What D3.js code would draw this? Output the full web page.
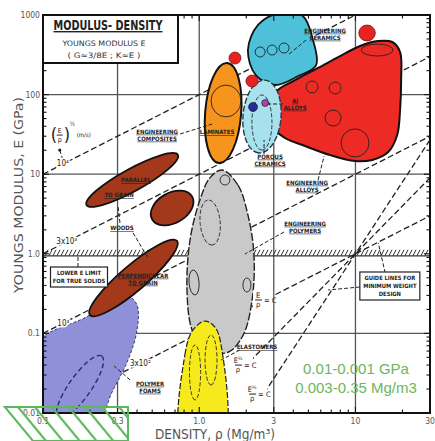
<!DOCTYPE html>
<html>
<head>
<meta charset="utf-8">
<script src="https://cdnjs.cloudflare.com/ajax/libs/d3/7.8.5/d3.min.js"></script>
<style>
body { margin: 0; background: #fff; }
svg { display: block; font-family: "Liberation Sans Narrow", "DejaVu Sans Condensed", "Arial Narrow", sans-serif; }
</style>
</head>
<body>
<script>
// axes
var xTicks = [0.1, 0.3, 1, 3, 10, 30];
var xTickLabels = ["0.1", "0.3", "1.0", "3", "10", "30"];
var yTicks = [0.01, 0.1, 1, 10, 100, 1000];
var yTickLabels = ["0.01", "0.1", "1.0", "10", "100", "1000"];
var gridX = [0.3, 1, 3, 10];
var gridY = [0.1, 10, 100];
var lowerLimitE = 1;

// (E/rho)^1/2 lines: E = c * rho
var waveC = [100, 10, 1, 0.1];
var waveLabels = ["10⁴", "3x10³", "10³", "3x10²"];
var waveLabelAt = [[0.134, 13.8], [0.142, 1.42], [0.135, 0.135], [0.42, 0.042]];

// guide lines for minimum weight design, all through (10, 1)
var guidePivot = [10, 1];
var guideExp = [1, 2, 3];
var guideStart = [0.1, 2.1, 2.6];
var guideLabelAt = [[2.38, 0.263], [1.77, 0.040], [2.18, 0.0173]];
var guideSup = ["", "½", "⅓"];

// ellipse-like fields: long axis from -> to, half width w in decades
var woods = [
  {from: [0.19, 4.1], to: [0.73, 17.5], w: 0.14},
  {from: [0.50, 2.7], to: [0.90, 5.25], w: 0.19},
  {from: [0.20, 0.17], to: [0.72, 1.45], w: 0.16}
];
var composites = {from: [1.51, 249], to: [1.34, 13.8], w: 0.226};
var porousCeramics = {from: [2.64, 152], to: [2.41, 18.5], w: 0.239};
var smallMetals = [
  {from: [1.55, 288], to: [1.85, 288], w: 0.075},
  {from: [1.99, 148], to: [2.38, 148], w: 0.075},
  {from: [10.5, 594], to: [13.4, 594], w: 0.1}
];
var alDots = [
  {from: [2.07, 69.9], to: [2.36, 69.9], w: 0.057, c: "#2a2aa8"},
  {from: [2.51, 78.4], to: [2.78, 78.4], w: 0.044, c: "#b23cb0"}
];
var foamCore = {from: [0.125, 0.00865], to: [0.238, 0.052], w: 0.138};

// free-form fields: boundary points [rho, E]
var engCeramics = [[2.05, 363], [2.38, 750], [3.3, 1060], [4.6, 970], [5.3, 514], [5.6, 235], [4.3, 171], [3.06, 132], [2.3, 176]];
var engAlloys = [[3.10, 108], [4.11, 152], [5.76, 216], [7.97, 305], [10.7, 408], [13.95, 471], [17.2, 458], [19.3, 343], [19.6, 152], [19.3, 64], [18.5, 31.1], [16.2, 19.0], [12.8, 15.1], [9.94, 14.6], [6.88, 17.4], [4.76, 22.6], [3.54, 28.5], [3.01, 38.0], [2.97, 67.9]];
var engPolymers = [[1.40, 11.3], [1.77, 7.3], [2.05, 3.07], [2.24, 0.97], [2.18, 0.263], [1.91, 0.095], [1.53, 0.058], [1.09, 0.062], [0.90, 0.11], [0.835, 0.35], [0.873, 1.49], [1.01, 4.74], [1.17, 9.0]];
var elastomers = [[0.79, 0.004], [0.81, 0.054], [0.91, 0.11], [1.09, 0.143], [1.26, 0.12], [1.38, 0.0715], [1.40, 0.004]];
var polymerFoams = [[0.085, 0.068], [0.194, 0.165], [0.277, 0.263], [0.35, 0.295], [0.40, 0.227], [0.40, 0.11], [0.35, 0.0463], [0.277, 0.0184], [0.215, 0.007], [0.085, 0.007]];

// sketched sub-fields inside the big fields
var subFields = [
  {from: [1.19, 83.1], to: [1.85, 83.1], w: 0.2, dash: false},
  {from: [2.52, 98.9], to: [2.52, 20.1], w: 0.126, dash: true},
  {from: [2.28, 343], to: [2.64, 343], w: 0.063, dash: false},
  {from: [2.72, 363], to: [3.15, 363], w: 0.063, dash: false},
  {from: [3.24, 385], to: [3.76, 385], w: 0.063, dash: false},
  {from: [6.39, 50.8], to: [8.09, 50.8], w: 0.1, dash: false},
  {from: [6.78, 121], to: [8.09, 121], w: 0.075, dash: false},
  {from: [4.83, 125], to: [5.76, 125], w: 0.075, dash: false},
  {from: [8.09, 24.7], to: [12.2, 24.7], w: 0.176, dash: false},
  {from: [10.9, 363], to: [17.4, 363], w: 0.075, dash: false},
  {from: [1.14, 4.74], to: [1.21, 1.29], w: 0.126, dash: true},
  {from: [0.913, 0.626], to: [0.94, 0.304], w: 0.063, dash: false},
  {from: [1.36, 8.46], to: [1.57, 8.46], w: 0.063, dash: false},
  {from: [2.02, 0.497], to: [2.02, 0.331], w: 0.05, dash: false},
  {from: [0.94, 0.0715], to: [0.94, 0.0146], w: 0.07, dash: true},
  {from: [1.19, 0.0955], to: [1.19, 0.0225], w: 0.075, dash: true}
];

// field names and where they sit
var labels = [
  {t: ["ENGINEERING", "COMPOSITES"], at: [0.537, 31.1]},
  {t: ["LAMINATES"], at: [1.30, 33.9]},
  {t: ["ENGINEERING", "CERAMICS"], at: [6.39, 577]},
  {t: ["Al", "ALLOYS"], at: [4.11, 76.2]},
  {t: ["POROUS", "CERAMICS"], at: [2.84, 15.1]},
  {t: ["ENGINEERING", "ALLOYS"], at: [4.90, 7.11]},
  {t: ["ENGINEERING", "POLYMERS"], at: [4.76, 2.17]},
  {t: ["WOODS"], at: [0.32, 2.11]},
  {t: ["PARALLEL"], at: [0.394, 8.45]},
  {t: ["TO GRAIN"], at: [0.307, 5.48]},
  {t: ["PERPENDICULAR", "TO GRAIN"], at: [0.437, 0.483]},
  {t: ["POLYMER", "FOAMS"], at: [0.484, 0.0212]},
  {t: ["ELASTOMERS"], at: [2.34, 0.0675]}
];
var boxLabels = [
  {t: ["LOWER E LIMIT", "FOR TRUE SOLIDS"], at: [0.170, 0.511]},
  {t: ["GUIDE LINES FOR", "MINIMUM WEIGHT", "DESIGN"], at: [16.6, 0.394]}
];
var leaders = [
  [[0.754, 32.0], [1.21, 42.7]],
  [[4.83, 485], [3.70, 314]],
  [[3.44, 76.2], [2.76, 76.2]],
  [[2.60, 17.9], [2.60, 26.9]],
  [[5.76, 8.45], [6.30, 16.9]],
  [[3.49, 1.88], [1.96, 0.994]],
  [[0.311, 2.44], [0.302, 3.99]],
  [[0.377, 1.83], [0.470, 0.886]],
  [[0.1675, 0.683], [0.1675, 0.966]],
  [[0.361, 0.026], [0.285, 0.039]],
  [[1.82, 0.0619], [1.38, 0.0463]],
  [[15.5, 0.574], [14.0, 1.37]],
  [[10.7, 0.383], [6.68, 0.351]],
  [[0.128, 20.1], [0.134, 15.1]]
];

// green note: aerogel range below the chart
var aerogel = [[0.057, 0.0119], [0.35, 0.0119], [0.35, 0.00445], [0.0863, 0.00445]];
var aerogelNote = ["0.01-0.001 GPa", "0.003-0.35 Mg/m3"];

var W = 435, H = 441;
var x = d3.scaleLog().domain([0.1, 30]).range([43, 430]);
var y = d3.scaleLog().domain([0.01, 1000]).range([413, 15]);
var X0 = x.range()[0], X1 = x.range()[1], Y0 = y.range()[0], Y1 = y.range()[1];

var svg = d3.select("body").append("svg").attr("width", W).attr("height", H);
var defs = svg.append("defs");
defs.append("clipPath").attr("id", "plot").append("rect")
    .attr("x", X0).attr("y", Y1).attr("width", X1 - X0).attr("height", Y0 - Y1);
var pat = defs.append("pattern").attr("id", "green")
    .attr("patternUnits", "userSpaceOnUse").attr("width", 13).attr("height", 13)
    .attr("patternTransform", "rotate(-39.5)");
pat.append("line").attr("x1", 2).attr("x2", 2).attr("y1", 0).attr("y2", 13)
    .attr("stroke", "#5cb85c").attr("stroke-width", 2.2);

var plot = svg.append("g").attr("clip-path", "url(#plot)");

// grid
plot.selectAll(".gx").data(gridX).enter().append("line")
    .attr("x1", function (d) { return x(d); }).attr("x2", function (d) { return x(d); })
    .attr("y1", Y1).attr("y2", Y0)
    .attr("stroke", "#555").attr("stroke-width", 1.3);
plot.selectAll(".gy").data(gridY).enter().append("line")
    .attr("y1", function (d) { return y(d); }).attr("y2", function (d) { return y(d); })
    .attr("x1", X0).attr("x2", X1)
    .attr("stroke", "#555").attr("stroke-width", 1.3);

// lower E limit, hatched
var yl = y(lowerLimitE);
plot.append("line").attr("x1", X0).attr("x2", X1).attr("y1", yl + 2).attr("y2", yl + 2)
    .attr("stroke", "#333").attr("stroke-width", 1.3);
plot.selectAll(".hatch").data(d3.range(X0 + 2, X1, 4)).enter().append("line")
    .attr("x1", function (d) { return d; }).attr("x2", function (d) { return d + 3; })
    .attr("y1", yl + 2).attr("y2", yl - 4)
    .attr("stroke", "#333").attr("stroke-width", 1);

// dashed property lines
var seg = d3.line().x(function (d) { return x(d[0]); }).y(function (d) { return y(d[1]); });
plot.selectAll(".wave").data(waveC).enter().append("path")
    .attr("d", function (c) { return seg([[0.1, c * 0.1], [30, c * 30]]); })
    .attr("fill", "none").attr("stroke", "#222").attr("stroke-width", 1.3)
    .attr("stroke-dasharray", "6,3");
guideExp.forEach(function (n, i) {
    if (n === 1) return;
    var f = function (r) { return guidePivot[1] * Math.pow(r / guidePivot[0], n); };
    plot.append("path").attr("d", seg([[guideStart[i], f(guideStart[i])], [40, f(40)]]))
        .attr("fill", "none").attr("stroke", "#222").attr("stroke-width", 1.3)
        .attr("stroke-dasharray", "6,3");
});

// fields
function ell(sel, r) {
    var x1 = x(r.from[0]), y1 = y(r.from[1]), x2 = x(r.to[0]), y2 = y(r.to[1]);
    var cx = (x1 + x2) / 2, cy = (y1 + y2) / 2;
    var a = Math.hypot(x2 - x1, y2 - y1) / 2;
    var b = y(1) - y(Math.pow(10, r.w));
    var ang = Math.atan2(y2 - y1, x2 - x1) * 180 / Math.PI;
    return sel.append("ellipse").attr("cx", cx).attr("cy", cy).attr("rx", a).attr("ry", b)
        .attr("transform", "rotate(" + ang + "," + cx + "," + cy + ")");
}
var blob = d3.line().x(function (d) { return x(d[0]); }).y(function (d) { return y(d[1]); })
    .curve(d3.curveCatmullRomClosed.alpha(0.5));

plot.append("path").attr("d", blob(polymerFoams))
    .attr("fill", "#8f90d8").attr("stroke", "#3a3a7a").attr("stroke-width", 1)
    .attr("stroke-dasharray", "3,2");
ell(plot, foamCore).attr("fill", "none").attr("stroke", "#2a2a80")
    .attr("stroke-width", 1.4).attr("stroke-dasharray", "5,3");
woods.forEach(function (r) {
    ell(plot, r).attr("fill", "#a3381b").attr("stroke", "#111").attr("stroke-width", 1.8);
});
plot.append("path").attr("d", blob(engPolymers))
    .attr("fill", "#c9c9c9").attr("stroke", "#222").attr("stroke-width", 1.4)
    .attr("stroke-dasharray", "8,2");
plot.append("path").attr("d", blob(elastomers))
    .attr("fill", "#f6ea1c").attr("stroke", "#222").attr("stroke-width", 1.2)
    .attr("stroke-dasharray", "6,2");
plot.append("path").attr("d", blob(engCeramics))
    .attr("fill", "#4fc0da").attr("stroke", "#111").attr("stroke-width", 1.8);
plot.append("path").attr("d", blob(engAlloys))
    .attr("fill", "#ee2a24").attr("stroke", "#111").attr("stroke-width", 2);
ell(plot, porousCeramics).attr("fill", "#a8e1ee").attr("stroke", "#1d3d4a")
    .attr("stroke-width", 1.4).attr("stroke-dasharray", "6,2");
ell(plot, composites).attr("fill", "#f7941e").attr("stroke", "#111").attr("stroke-width", 2);
smallMetals.forEach(function (r) {
    ell(plot, r).attr("fill", "#e8231f").attr("stroke", "#7a1010").attr("stroke-width", 0.8);
});
alDots.forEach(function (r) {
    ell(plot, r).attr("fill", r.c).attr("stroke", "#111").attr("stroke-width", 0.6);
});
subFields.forEach(function (r) {
    ell(plot, r).attr("fill", "none").attr("stroke", "#222").attr("stroke-width", 0.9)
        .attr("stroke-dasharray", r.dash ? "4,2" : null);
});

// leaders
plot.selectAll(".lead").data(leaders).enter().append("path")
    .attr("d", function (d) { return seg(d); })
    .attr("stroke", "#222").attr("stroke-width", 1).attr("stroke-dasharray", "4,2");
plot.append("circle").attr("cx", x(leaders[13][0][0])).attr("cy", y(leaders[13][0][1]))
    .attr("r", 1.6).attr("fill", "#222");

// labels
function multi(g, lines, fs, gap) {
    var top = -(lines.length - 1) * gap / 2;
    lines.forEach(function (t, i) {
        g.append("text").attr("y", top + i * gap).attr("dy", "0.35em")
            .attr("text-anchor", "middle").attr("font-size", fs).attr("font-weight", "bold")
            .attr("fill", "#222").attr("text-decoration", "underline").text(t);
    });
}
labels.forEach(function (l) {
    var g = svg.append("g").attr("transform", "translate(" + x(l.at[0]) + "," + y(l.at[1]) + ")");
    multi(g, l.t, 6, 7);
});
boxLabels.forEach(function (l) {
    var g = svg.append("g").attr("transform", "translate(" + x(l.at[0]) + "," + y(l.at[1]) + ")");
    var hgt = l.t.length * 8 + 4, wid = l.t.length > 2 ? 60 : 57;
    g.append("rect").attr("x", -wid / 2).attr("y", -hgt / 2).attr("width", wid).attr("height", hgt)
        .attr("fill", "#fff").attr("stroke", "#222").attr("stroke-width", 1.2);
    l.t.forEach(function (t, i) {
        g.append("text").attr("y", -(l.t.length - 1) * 4 + i * 8).attr("dy", "0.35em")
            .attr("text-anchor", "middle").attr("font-size", 5.8).attr("font-weight", "bold")
            .attr("fill", "#222").text(t);
    });
});

// line values
waveLabels.forEach(function (t, i) {
    svg.append("text").attr("x", x(waveLabelAt[i][0])).attr("y", y(waveLabelAt[i][1]))
        .attr("dy", "0.35em").attr("text-anchor", "middle").attr("font-size", 8)
        .attr("fill", "#222").attr("stroke", "#fff").attr("stroke-width", 3)
        .attr("paint-order", "stroke").text(t);
});
guideLabelAt.forEach(function (p, i) {
    var g = svg.append("g").attr("transform", "translate(" + x(p[0]) + "," + y(p[1]) + ")");
    g.append("rect").attr("x", -5).attr("y", -10).attr("width", 20).attr("height", 20).attr("fill", "#fff");
    var e = g.append("text").attr("y", -2).attr("text-anchor", "middle").attr("font-size", 7.5).attr("fill", "#222").text("E");
    if (guideSup[i]) e.append("tspan").attr("font-size", 5).attr("dy", -3).text(guideSup[i]);
    g.append("line").attr("x1", -3).attr("x2", 4).attr("y1", 0).attr("y2", 0).attr("stroke", "#222");
    g.append("text").attr("y", 7).attr("text-anchor", "middle").attr("font-size", 7.5).attr("fill", "#222").text("ρ");
    g.append("text").attr("x", 6).attr("y", 3).attr("font-size", 7.5).attr("fill", "#222").text("= C");
});

// (E/rho)^1/2 legend
var ep = svg.append("g").attr("transform", "translate(" + x(0.128) + "," + y(31) + ")");
ep.append("text").attr("x", -9).attr("y", 6).attr("font-size", 18).attr("fill", "#222").text("(");
ep.append("text").attr("x", 0).attr("y", -2).attr("font-size", 7).attr("text-anchor", "middle").attr("fill", "#222").text("E");
ep.append("line").attr("x1", -3).attr("x2", 3).attr("y1", 0).attr("y2", 0).attr("stroke", "#222");
ep.append("text").attr("x", 0).attr("y", 7).attr("font-size", 7).attr("text-anchor", "middle").attr("fill", "#222").text("ρ");
ep.append("text").attr("x", 4).attr("y", 6).attr("font-size", 18).attr("fill", "#222").text(")");
ep.append("text").attr("x", 10).attr("y", -9).attr("font-size", 6).attr("fill", "#222").text("½");
ep.append("text").attr("x", 17).attr("y", 2).attr("font-size", 6).attr("fill", "#222").text("(m/s)");

// frame and ticks
var ax = svg.append("g");
ax.append("rect").attr("x", X0).attr("y", Y1).attr("width", X1 - X0).attr("height", Y0 - Y1)
    .attr("fill", "none").attr("stroke", "#111").attr("stroke-width", 2);
function isMajor(list, v) { return list.some(function (t) { return Math.abs(t / v - 1) < 1e-6; }); }
y.ticks().forEach(function (v) {
    var L = isMajor(yTicks, v) ? 6 : 3.5, p = y(v);
    ax.append("line").attr("x1", X0).attr("x2", X0 + L).attr("y1", p).attr("y2", p).attr("stroke", "#111").attr("stroke-width", 1.1);
    ax.append("line").attr("x1", X1).attr("x2", X1 - L).attr("y1", p).attr("y2", p).attr("stroke", "#111").attr("stroke-width", 1.1);
});
x.ticks().forEach(function (v) {
    var L = isMajor(xTicks, v) ? 6 : 3.5, p = x(v);
    ax.append("line").attr("y1", Y0).attr("y2", Y0 - L).attr("x1", p).attr("x2", p).attr("stroke", "#111").attr("stroke-width", 1.1);
    ax.append("line").attr("y1", Y1).attr("y2", Y1 + L).attr("x1", p).attr("x2", p).attr("stroke", "#111").attr("stroke-width", 1.1);
});
yTicks.forEach(function (v, i) {
    ax.append("text").attr("x", X0 - 3).attr("y", y(v)).attr("dy", "0.35em")
        .attr("text-anchor", "end").attr("font-size", 8.5).attr("fill", "#555").text(yTickLabels[i]);
});
xTicks.forEach(function (v, i) {
    ax.append("text").attr("x", x(v)).attr("y", Y0 + 11)
        .attr("text-anchor", "middle").attr("font-size", 8.5).attr("fill", "#555").text(xTickLabels[i]);
});

// axis titles
svg.append("text").attr("transform", "translate(23,195) rotate(-90)")
    .attr("text-anchor", "middle").attr("font-size", 13).attr("fill", "#555")
    .attr("textLength", 196).attr("lengthAdjust", "spacingAndGlyphs")
    .text("YOUNGS MODULUS, E (GPa)");
svg.append("text").attr("x", 215).attr("y", 439)
    .attr("text-anchor", "middle").attr("font-size", 14).attr("fill", "#555")
    .attr("textLength", 120).attr("lengthAdjust", "spacingAndGlyphs")
    .text("DENSITY, ρ (Mg/m³)");

// title box
var tb = svg.append("g");
tb.append("rect").attr("x", X0).attr("y", Y1).attr("width", 135).attr("height", 48)
    .attr("fill", "#fff").attr("stroke", "#111").attr("stroke-width", 2);
tb.append("text").attr("x", 108).attr("y", 30).attr("text-anchor", "middle")
    .attr("font-size", 14).attr("font-weight", "bold").attr("fill", "#222")
    .attr("text-decoration", "underline")
    .attr("textLength", 109).attr("lengthAdjust", "spacingAndGlyphs").text("MODULUS- DENSITY");
tb.append("text").attr("x", 104).attr("y", 46).attr("text-anchor", "middle")
    .attr("font-size", 7.5).attr("fill", "#333")
    .attr("textLength", 83).attr("lengthAdjust", "spacingAndGlyphs").text("YOUNGS MODULUS    E");
tb.append("text").attr("x", 104).attr("y", 58).attr("text-anchor", "middle")
    .attr("font-size", 7.5).attr("fill", "#333")
    .attr("textLength", 73).attr("lengthAdjust", "spacingAndGlyphs").text("( G≈3/8E ; K≈E )");

// green aerogel note
svg.append("path").attr("d", d3.line().x(function (d) { return x(d[0]); }).y(function (d) { return y(d[1]); })(aerogel) + "Z")
    .attr("fill", "url(#green)").attr("stroke", "#5cb85c").attr("stroke-width", 2);
aerogelNote.forEach(function (t, i) {
    svg.append("text").attr("x", 356).attr("y", 374 + i * 19).attr("text-anchor", "middle")
        .attr("font-family", "Liberation Sans, Arial, sans-serif")
        .attr("font-size", 15).attr("fill", "#6cb65e").text(t);
});
</script>
</body>
</html>
